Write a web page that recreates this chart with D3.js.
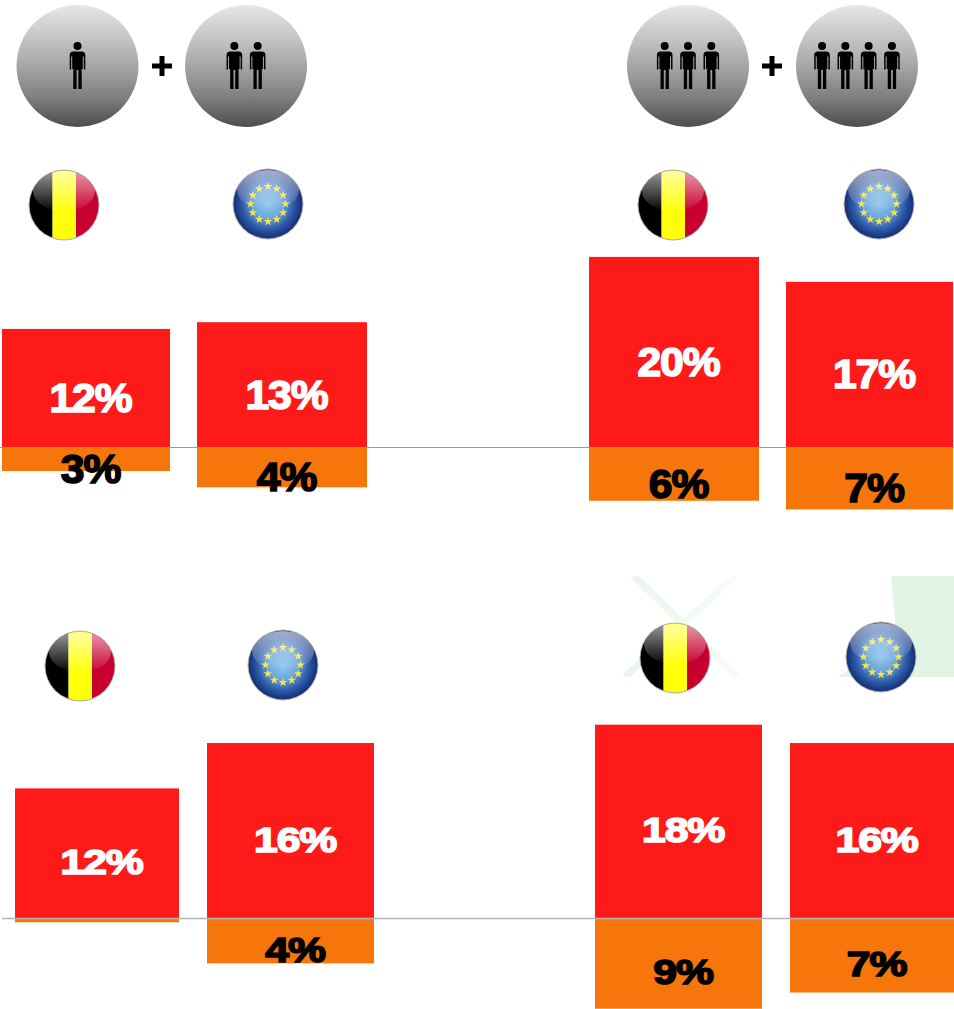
<!DOCTYPE html>
<html><head><meta charset="utf-8">
<script src="https://cdn.jsdelivr.net/npm/d3@7/dist/d3.min.js"></script>
<style>html,body{margin:0;padding:0;background:#fff;overflow:hidden}svg{display:block}</style>
</head><body><div id="chart"></div>
<script>
// ---- data ----
const regions = ["BE", "EU"];
const householdGroups = ["1+2 persons", "3+4 persons"];
const panels = ["top", "bottom"];
const topRed      = [12.3, 13.0, 19.8, 17.2];
const topOrange   = [2.5, 4.2, 5.6, 6.5];
const bottomRed   = [12.0, 16.2, 17.9, 16.2];
const bottomOrange= [0.4, 4.2, 8.4, 6.9];
const topRedLabels      = ["12%", "13%", "20%", "17%"];
const topOrangeLabels   = ["3%", "4%", "6%", "7%"];
const bottomRedLabels   = ["12%", "16%", "18%", "16%"];
const bottomOrangeLabels= ["", "4%", "9%", "7%"];
const personCounts = [1, 2, 3, 4];

// ---- layout ----
const W = 954, H = 1009;
const svg = d3.select("#chart").append("svg").attr("width", W).attr("height", H);
const defs = svg.append("defs");
const RED = "#ff1a1a", ORANGE = "#f7760b";

const slots = [0, 1, 2, 3];
const layout = {
  top: {
    y: d3.scaleLinear().domain([-10, 20]).range([543, 255]),
    left: d3.scaleOrdinal(slots, [2, 197, 589, 786]),
    right: d3.scaleOrdinal(slots, [170, 367, 759, 953]),
    red: topRed, orange: topOrange, redL: topRedLabels, orangeL: topOrangeLabels,
    size: 41, sx: 1.04, dy: 24, line: "#9a9a9a", lineW: 1, x0: 0
  },
  bottom: {
    y: d3.scaleLinear().domain([-10, 20]).range([1026, 702]),
    left: d3.scaleOrdinal(slots, [15, 207, 595, 790]),
    right: d3.scaleOrdinal(slots, [179, 374, 762, 954]),
    red: bottomRed, orange: bottomOrange, redL: bottomRedLabels, orangeL: bottomOrangeLabels,
    size: 35, sx: 1.22, dy: 21, line: "#b4b4b4", lineW: 1.5, x0: 2
  }
};

// ---- gradients ----
function lin(id, stops, x2 = 0, y2 = 1) {
  const g = defs.append("linearGradient").attr("id", id)
    .attr("x1", 0).attr("y1", 0).attr("x2", x2).attr("y2", y2);
  stops.forEach(s => g.append("stop").attr("offset", s[0]).attr("stop-color", s[1]).attr("stop-opacity", s[2] === undefined ? 1 : s[2]));
}
lin("disc", [[0, "#e6e7e8"], [0.45, "#adadad"], [0.75, "#808082"], [1, "#4d4d4f"]]);
lin("gloss", [[0, "#fff", 0.6], [1, "#fff", 0.02]]);
const eu = defs.append("radialGradient").attr("id", "eu");
eu.append("stop").attr("offset", 0).attr("stop-color", "#8cc6ee");
eu.append("stop").attr("offset", 0.4).attr("stop-color", "#6ea8dc");
eu.append("stop").attr("offset", 0.72).attr("stop-color", "#2f5cab");
eu.append("stop").attr("offset", 1).attr("stop-color", "#132c72");
defs.append("clipPath").attr("id", "flagClip").append("circle").attr("r", 34.5);
const soft = defs.append("filter").attr("id", "soft").attr("x", "-10%").attr("y", "-10%").attr("width", "120%").attr("height", "120%");
soft.append("feGaussianBlur").attr("stdDeviation", 0.6);

// ---- faint green watermark behind the lower right flags ----
const wm = svg.append("g");
defs.append("clipPath").attr("id", "wmClip").append("rect").attr("x", 600).attr("y", 576).attr("width", 354).attr("height", 101);
const wmFade = defs.append("linearGradient").attr("id", "wmFade").attr("x1", 0).attr("y1", 0).attr("x2", 1).attr("y2", 0);
wmFade.append("stop").attr("offset", 0).attr("stop-color", "#e8f5e8").attr("stop-opacity", 0.9);
wmFade.append("stop").attr("offset", 1).attr("stop-color", "#eef8ee").attr("stop-opacity", 0.5);
const wmG = wm.append("g").attr("clip-path", "url(#wmClip)");
wmG.append("path").attr("d", "M634,576L738,677M735,576L625,677").attr("stroke", "url(#wmFade)").attr("stroke-width", 7).attr("fill", "none").attr("filter", "url(#soft)");
wmG.append("path").attr("d", "M891,576H954V677H838Q884,650 896,630Z").attr("fill", "#e2f4e3");

// ---- household discs ----
const personPath = "M-4.2,9.5H4.2Q7.8,9.5 7.8,13V27.5H6.3V14.5H5.3V27H4.2V47H0.9V28H-0.9V47H-4.2V27H-5.3V14.5H-6.3V27.5H-7.8V13Q-7.8,9.5 -4.2,9.5Z";
const discX = d3.scaleOrdinal(personCounts, [77.5, 246, 688, 857]);
const discs = svg.selectAll("g.disc").data(personCounts).join("g").attr("class", "disc")
  .attr("transform", d => `translate(${discX(d)},66)`);
discs.append("circle").attr("r", 61).attr("fill", "url(#disc)").attr("filter", "url(#soft)");
discs.each(function (n) {
  const g = d3.select(this);
  const pos = d3.range(n).map(i => (i - (n - 1) / 2) * 23.3);
  pos.forEach(px => {
    const p = g.append("g").attr("transform", `translate(${px},-24)`);
    p.append("circle").attr("cy", 4).attr("r", 4).attr("fill", "#000");
    p.append("path").attr("d", personPath).attr("fill", "#000");
  });
});
svg.selectAll("text.plus").data(householdGroups).join("path").attr("class", "plus")
  .attr("transform", (d, i) => `translate(${[162, 772][i]},66)`)
  .attr("d", "M-10,-2.5H-2.5V-10H2.5V-2.5H10V2.5H2.5V10H-2.5V2.5H-10Z").attr("fill", "#000");

// ---- flags ----
const starPath = d3.symbol().type(d3.symbolStar).size(24)();
function flag(cx, cy, region) {
  const g = svg.append("g").attr("transform", `translate(${cx},${cy})`);
  g.append("circle").attr("r", 35.5).attr("fill", "#b0b0b0").attr("filter", "url(#soft)");
  const c = g.append("g").attr("clip-path", "url(#flagClip)");
  if (region === "BE") {
    c.append("rect").attr("x", -35).attr("y", -35).attr("width", 23.5).attr("height", 70).attr("fill", "#000");
    c.append("rect").attr("x", -11.5).attr("y", -35).attr("width", 23.5).attr("height", 70).attr("fill", "#ffff0a");
    c.append("rect").attr("x", 12).attr("y", -35).attr("width", 23.5).attr("height", 70).attr("fill", "#c8002f");
  } else {
    c.append("circle").attr("r", 35).attr("fill", "url(#eu)");
    d3.range(12).forEach(i => {
      const a = i / 12 * 2 * Math.PI;
      c.append("path").attr("d", starPath).attr("fill", "#f2e64a")
        .attr("transform", `translate(${17.5 * Math.sin(a)},${-17.5 * Math.cos(a)})`);
    });
  }
  c.append("ellipse").attr("cx", 0).attr("cy", -14).attr("rx", 31).attr("ry", 20).attr("fill", "url(#gloss)");
}
[[64, 205], [268, 204], [673, 205], [879, 204], [80, 666], [283, 665], [675, 658], [881, 657]]
  .forEach((p, i) => flag(p[0], p[1], regions[i % 2]));

// ---- bars ----
panels.forEach(name => {
  const P = layout[name];
  const g = svg.append("g").attr("class", name);
  const zero = P.y(0);
  g.selectAll("rect.red").data(slots).join("rect").attr("class", "red")
    .attr("x", i => P.left(i)).attr("width", i => P.right(i) - P.left(i))
    .attr("y", i => P.y(P.red[i])).attr("height", i => zero - P.y(P.red[i])).attr("fill", RED);
  g.selectAll("rect.orange").data(slots).join("rect").attr("class", "orange")
    .attr("x", i => P.left(i)).attr("width", i => P.right(i) - P.left(i))
    .attr("y", zero).attr("height", i => P.y(-P.orange[i]) - zero).attr("fill", ORANGE);
  g.append("line").attr("x1", P.x0).attr("x2", W).attr("y1", zero + 0.5).attr("y2", zero + 0.5)
    .attr("stroke", P.line).attr("stroke-width", P.lineW);

  const label = (text, fill, yOf) => {
    g.selectAll(null).data(slots.filter(i => text[i])).join("text")
      .attr("transform", i => `translate(${(P.left(i) + P.right(i)) / 2 + 4.5},${yOf(i) + P.dy}) scale(${P.sx},1)`)
      .attr("text-anchor", "middle")
      .attr("font-family", "'Liberation Sans', Arial, sans-serif")
      .attr("font-weight", 700).attr("font-size", P.size)
      .attr("fill", fill).attr("stroke", fill).attr("stroke-width", 1.6)
      .attr("letter-spacing", -1)
      .text(i => text[i]);
  };
  label(P.redL, "#fff", i => (P.y(P.red[i]) + zero) / 2);
  label(P.orangeL, "#000", i => (P.y(-P.orange[i]) + zero) / 2);
});
</script></body></html>
